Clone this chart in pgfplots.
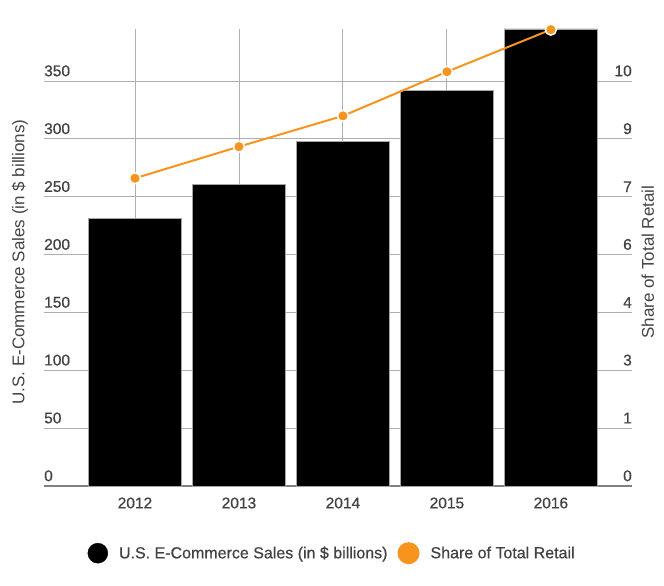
\documentclass[border=0pt]{standalone}
\usepackage{pgfplots}
\pgfplotsset{compat=1.18}
\usepackage{fontspec}
\setmainfont{Liberation Sans}
\newfontfamily\medfont[FakeBold=0.6]{Liberation Sans}
\definecolor{myorange}{RGB}{247,148,29}
\definecolor{txt}{RGB}{68,68,68}
\definecolor{tck}{RGB}{66,66,66}
\definecolor{gridc}{RGB}{175,175,175}
\begin{document}
\begin{tikzpicture}
\useasboundingbox (-44bp,-100bp) rectangle (620bp,486bp);
\begin{axis}[
 at={(0,0)}, anchor=south west,
 scale only axis, width=588bp, height=457bp,
 xmin=-0.875, xmax=4.78, ymin=0, ymax=395,
 /pgf/number format/assume math mode=true,
 axis line style={draw=none},
 major tick length=0pt,
 xtick={0,1,2,3,4}, xticklabels={2012,2013,2014,2015,2016},
 ytick={0,50,...,350},
 xmajorgrids, ymajorgrids,
 grid style={gridc, line width=0.9bp},
 extra y ticks={0}, extra y tick labels={},
 extra y tick style={grid style={gray, line width=1.2bp}},
 xticklabel style={font=\medfont\fontsize{15.5bp}{18bp}\selectfont, text=tck, yshift=-8bp},
 yticklabel style={anchor=south west, inner sep=0pt, yshift=4.5bp, font=\medfont\fontsize{15.5bp}{18bp}\selectfont, text=tck},
 ylabel={U.S. E-Commerce Sales (in \$ billions)},
 ylabel style={at={(axis description cs:-0.041,0.49)}, anchor=center, font=\fontsize{17bp}{20bp}\selectfont, text=txt},
]
\addplot[ybar, bar width=0.9, fill=black, draw=gray!70, line width=0.6bp] coordinates {(0,231) (1,261) (2,298) (3,342) (4,395)};
\end{axis}
\begin{axis}[
 at={(0,0)}, anchor=south west,
 scale only axis, width=588bp, height=457bp,
 xmin=-0.875, xmax=4.78, ymin=0, ymax=11.2857,
 /pgf/number format/assume math mode=true,
 axis line style={draw=none},
 major tick length=0pt,
 xtick=\empty,
 ytick={0,1.428571,2.857143,4.285714,5.714286,7.142857,8.571429,10},
 yticklabels={0,1,3,4,6,7,9,10},
 yticklabel pos=right,
 yticklabel style={anchor=south east, inner sep=0pt, yshift=4.5bp, font=\medfont\fontsize{15.5bp}{18bp}\selectfont, text=tck},
 ylabel={Share of Total Retail},
 ylabel style={at={(axis description cs:1.027,0.49)}, anchor=center, rotate=0, font=\fontsize{17bp}{20bp}\selectfont, text=txt},
 clip=false,
 legend columns=2,
 legend style={at={(axis description cs:0.49,-0.147)}, anchor=center, draw=none, fill=none, font=\medfont\fontsize{16bp}{19bp}\selectfont, text=tck, /tikz/every even column/.append style={column sep=8bp}},
]
\addlegendimage{legend image code/.code={\fill[black] (10bp,0bp) circle (10bp); \path (0bp,0) (29bp,0);}}
\addlegendentry{U.S. E-Commerce Sales (in \$ billions)}
\addplot[myorange, line width=2bp, mark=*, mark size=5.5bp, mark options={fill=myorange, draw=white, line width=1.5bp},
 legend image code/.code={\fill[myorange] (10bp,0bp) circle (10bp); \path (0bp,0) (29bp,0);}]
 coordinates {(0,7.6) (1,8.38) (2,9.14) (3,10.23) (4,11.27)};
\addlegendentry{Share of Total Retail}
\end{axis}
\end{tikzpicture}
\end{document}
